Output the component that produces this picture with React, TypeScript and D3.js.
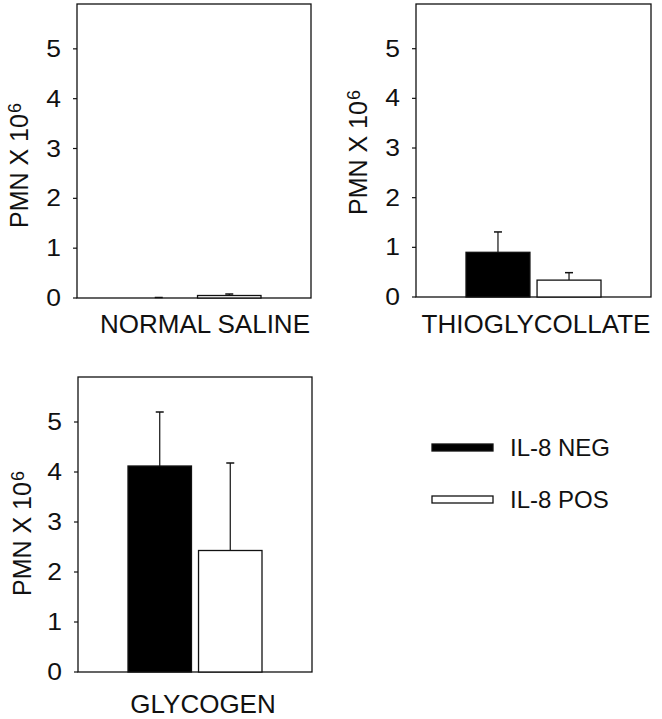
import { useEffect, useRef } from 'react';
import * as d3 from 'd3';

// values (PMN x 10^6)
const groups = ['IL-8 NEG', 'IL-8 POS'];
const panelNames = ['NORMAL SALINE', 'THIOGLYCOLLATE', 'GLYCOGEN'];
const negMeans = [0.0, 0.9, 4.12];
const negErrors = [0.01, 0.41, 1.08];
const posMeans = [0.05, 0.34, 2.43];
const posErrors = [0.03, 0.15, 1.75];
const yTicks = [0, 1, 2, 3, 4, 5];
const yMax = 5.9;

// where each panel sits on the page
const layout = [
  { left: 77, right: 311, top: 4, bottom: 298, labelX: 205, labelY: 333, titleX: 28, titleY: 228 },
  { left: 416, right: 651, top: 4, bottom: 297, labelX: 536, labelY: 333, titleX: 367, titleY: 215 },
  { left: 78, right: 312, top: 377, bottom: 672, labelX: 203, labelY: 713, titleX: 31, titleY: 596 },
];

const FONT = '"Liberation Sans", Arial, Helvetica, sans-serif';
const INK = '#111';
const STRETCH = 1.15; // scanned digits run wider than Arial's

export default function App() {
  const svgRef = useRef<SVGSVGElement>(null);

  useEffect(() => {
    document.body.style.margin = '0';
    const svg = d3.select(svgRef.current);
    svg.selectAll('*').remove();

    svg.append('rect').attr('width', 662).attr('height', 719).attr('fill', '#fff');

    const fills = d3.scaleOrdinal<string, string>().domain(groups).range(['#000', '#fff']);

    layout.forEach((p, i) => {
      const g = svg.append('g');

      const y = d3.scaleLinear().domain([0, yMax]).range([p.bottom, p.top]);
      const x = d3.scaleBand()
        .domain(groups)
        .range([p.left + 50, p.right - 50])
        .paddingInner(0.1)
        .paddingOuter(0);

      // frame
      g.append('rect')
        .attr('x', p.left)
        .attr('y', p.top)
        .attr('width', p.right - p.left)
        .attr('height', p.bottom - p.top)
        .attr('fill', 'none')
        .attr('stroke', INK)
        .attr('stroke-width', 1.3);

      // ticks and their labels
      const ticks = g.append('g').selectAll('g')
        .data(yTicks)
        .join('g')
        .attr('transform', d => `translate(${p.left},${y(d)})`);
      ticks.append('line')
        .attr('x1', -4).attr('x2', 0)
        .attr('stroke', INK).attr('stroke-width', 1.2);
      ticks.append('text')
        .attr('transform', `scale(${STRETCH},1)`)
        .attr('x', -16 / STRETCH)
        .attr('y', 8)
        .attr('text-anchor', 'end')
        .attr('font-family', FONT)
        .attr('font-size', 23)
        .attr('fill', INK)
        .text(d => d3.format('d')(d));

      const rows = [
        { key: groups[0], mean: negMeans[i], err: negErrors[i] },
        { key: groups[1], mean: posMeans[i], err: posErrors[i] },
      ];

      rows.forEach(d => {
        const bx = x(d.key)!;
        const cx = bx + x.bandwidth() / 2;
        // one-sided error bar
        g.append('line')
          .attr('x1', cx).attr('x2', cx)
          .attr('y1', y(d.mean)).attr('y2', y(d.mean + d.err))
          .attr('stroke', INK).attr('stroke-width', 1.2);
        g.append('line')
          .attr('x1', cx - 4).attr('x2', cx + 4)
          .attr('y1', y(d.mean + d.err)).attr('y2', y(d.mean + d.err))
          .attr('stroke', INK).attr('stroke-width', 1.5);
        if (d.mean > 0) {
          g.append('rect')
            .attr('x', bx)
            .attr('y', y(d.mean))
            .attr('width', x.bandwidth())
            .attr('height', y(0) - y(d.mean))
            .attr('fill', fills(d.key))
            .attr('stroke', INK)
            .attr('stroke-width', 1.3);
        }
      });

      // category label under the panel
      g.append('text')
        .attr('x', p.labelX)
        .attr('y', p.labelY)
        .attr('text-anchor', 'middle')
        .attr('font-family', FONT)
        .attr('font-size', 26)
        .attr('fill', INK)
        .text(panelNames[i]);

      // y title with superscript
      const title = g.append('text')
        .attr('transform', `translate(${p.titleX},${p.titleY}) rotate(-90)`)
        .attr('font-family', FONT)
        .attr('font-size', 25)
        .attr('fill', INK);
      title.append('tspan').text('PMN X 10');
      title.append('tspan').attr('font-size', 18).attr('dy', -7).attr('dx', 1).text('6');
    });

    // legend
    const legend = svg.append('g').attr('transform', 'translate(432,0)');
    const legendY = d3.scalePoint().domain(groups).range([448, 500]);
    groups.forEach(k => {
      const ly = legendY(k)!;
      legend.append('rect')
        .attr('x', 0)
        .attr('y', ly - 4)
        .attr('width', 61)
        .attr('height', 7)
        .attr('fill', fills(k))
        .attr('stroke', INK)
        .attr('stroke-width', 1.3);
      legend.append('text')
        .attr('x', 78)
        .attr('y', ly + 8)
        .attr('font-family', FONT)
        .attr('font-size', 24)
        .attr('fill', INK)
        .text(k);
    });
  }, []);

  return <svg ref={svgRef} width={662} height={719} style={{ display: 'block' }} />;
}
